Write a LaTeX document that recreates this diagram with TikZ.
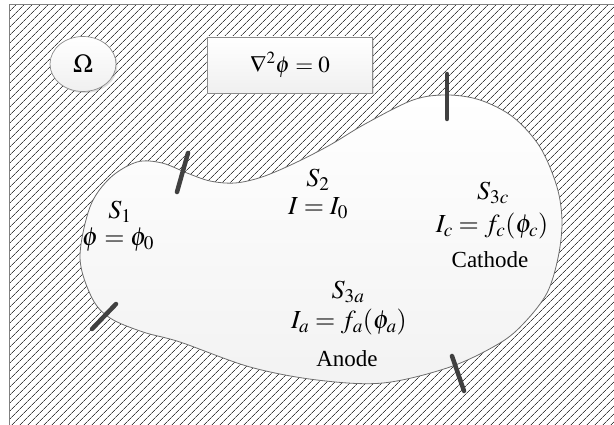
\documentclass[tikz,border=0pt]{standalone}
\usepackage{mathptmx}
\usepackage{fontspec}
\setmainfont{Liberation Serif}
\usetikzlibrary{patterns.meta,shadows,shapes.geometric}
\tikzset{
  txt/.style={font=\fontsize{23}{26}\selectfont, inner sep=0pt},
  mtxt/.style={font=\fontsize{26}{28}\selectfont, inner sep=0pt},
  electrode/.style={line width=4.5pt, line cap=round, draw=black!75},
  softbox/.style={draw=gray!90, line width=0.7pt, top color=white, bottom color=gray!12,
     drop shadow={opacity=0.25, shadow xshift=1.5pt, shadow yshift=-1.5pt}},
}
\begin{document}
\begin{tikzpicture}[x=1pt,y=-1pt]
\useasboundingbox (0,0) rectangle (614,425);
\clip (0,0) rectangle (614,425);
\fill[white] (0,0) rectangle (614,425);
% hatched domain
\draw[gray, line width=1pt, pattern={Lines[angle=45,distance=5.4pt,line width=0.8pt]}, pattern color=black!75]
  (9,5) rectangle (650,460);
% blob (electrolyte)
\draw[gray!85!black, line width=0.8pt, top color=white, bottom color=gray!10]
  plot[smooth cycle, tension=0.55] coordinates {
   (80,258) (90,207) (110,178) (137,162) (162,163) (187,173) (210,181) (235,183)
   (262,177) (295,163) (330,145) (365,124) (413,100) (447,95) (480,100) (513,117)
   (540,147) (557,187) (562,222) (558,258) (547,293) (525,322) (500,343) (450,367)
   (383,383) (317,380) (250,367) (180,342) (143,332) (110,318) (92,298)};
% electrodes
\coordinate (e1a) at (177,192); \coordinate (e1b) at (188,153);
\coordinate (e2a) at (447,74);  \coordinate (e2b) at (447,119);
\coordinate (e3a) at (452,356); \coordinate (e3b) at (464,391);
\coordinate (e4a) at (92,329);  \coordinate (e4b) at (116,304);
\draw[electrode] (e1a) -- (e1b);
\draw[electrode] (e2a) -- (e2b);
\draw[electrode] (e3a) -- (e3b);
\draw[electrode] (e4a) -- (e4b);
% labels
\node[softbox, ellipse, minimum width=66pt, minimum height=55pt, mtxt] (omega) at (83,64) {$\Omega$};
\node[softbox, rectangle, minimum width=165pt, minimum height=56pt, txt] (lap) at (290,65) {$\nabla^2\phi = 0$};
\node[mtxt] (s1) at (120,212) {$S_1$};
\node[mtxt] (s1e) at (118,240) {$\phi = \phi_0$};
\node[mtxt] (s2) at (318,180) {$S_2$};
\node[mtxt] (s2e) at (318,208) {$I = I_0$};
\node[mtxt] (s3c) at (493,193) {$S_{3c}$};
\node[mtxt] (s3ce) at (492,226) {$I_c = f_c(\phi_c)$};
\node[txt] (cath) at (490,260) {Cathode};
\node[mtxt] (s3a) at (348,292) {$S_{3a}$};
\node[mtxt] (s3ae) at (349,322) {$I_a = f_a(\phi_a)$};
\node[txt] (anode) at (347,359) {Anode};
\end{tikzpicture}
\end{document}
